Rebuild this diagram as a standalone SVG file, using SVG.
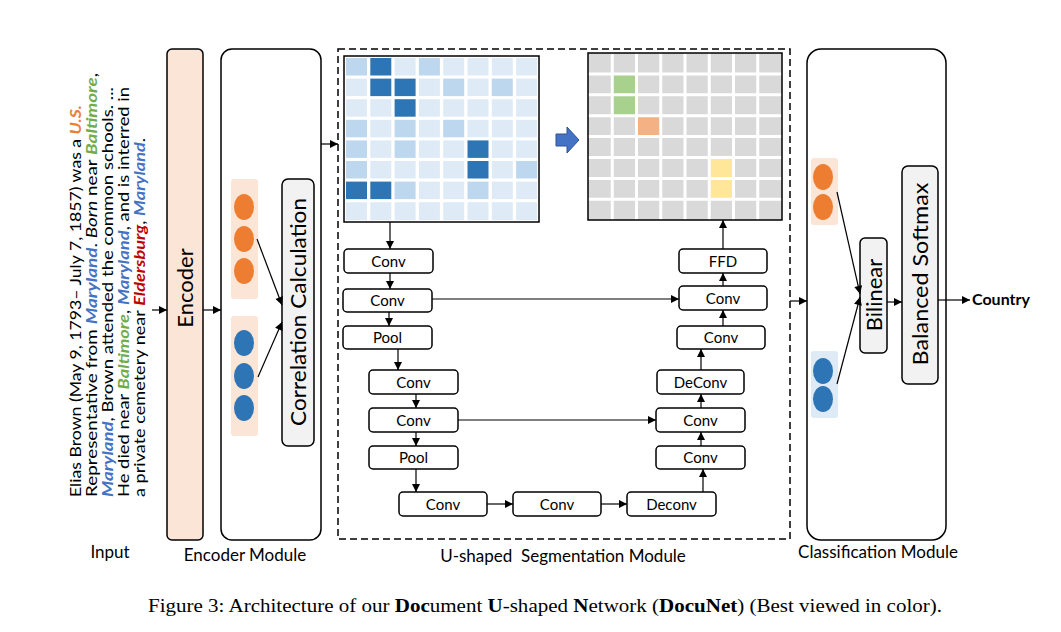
<svg xmlns="http://www.w3.org/2000/svg" width="1061" height="632" viewBox="0 0 1061 632">
<defs>
<marker id="ah" viewBox="0 0 10 10" refX="10" refY="5" markerWidth="9" markerHeight="8" markerUnits="userSpaceOnUse" orient="auto"><path d="M0,0 L10,5 L0,10 z" fill="#000"/></marker>
<style>
.t{font-family:Lato,"Open Sans","Liberation Sans",sans-serif;fill:#000}
.box{fill:#fff;stroke:#000;stroke-width:1.5}
.gbox{fill:#F2F2F2;stroke:#000;stroke-width:1.5}
.lbl{font-size:15px;text-anchor:middle}
.big{font-size:22px;text-anchor:middle}
.mod{font-size:17px;text-anchor:middle}
.c{stroke:#000;stroke-width:1.2;fill:none;marker-end:url(#ah)}
.D{fill:#2E75B6}.M{fill:#BDD7EE}.L{fill:#DEEBF7}
.oc{fill:#ED7D31}.bc{fill:#2E75B6}
.in{font-size:16px}
.us{fill:#ED7D31;font-weight:bold;font-style:italic}
.md{fill:#4472C4;font-weight:bold;font-style:italic}
.bt{fill:#70AD47;font-weight:bold;font-style:italic}
.el{fill:#C00000;font-weight:bold;font-style:italic}
</style>
</defs>
<rect width="1061" height="632" fill="#fff"/>

<g id="input">
<text class="t in" transform="translate(81,497) rotate(-90)" textLength="392" lengthAdjust="spacingAndGlyphs">Elias Brown (May 9, 1793– July 7, 1857) was a <tspan class="us">U.S.</tspan></text>
<text class="t in" transform="translate(97,497) rotate(-90)" textLength="424" lengthAdjust="spacingAndGlyphs">Representative from <tspan class="md">Maryland</tspan>. <tspan font-style="italic">Born</tspan> near <tspan class="bt">Baltimore</tspan>,</text>
<text class="t in" transform="translate(113,497) rotate(-90)" textLength="410" lengthAdjust="spacingAndGlyphs"><tspan class="md">Maryland</tspan>, Brown attended the common schools. ...</text>
<text class="t in" transform="translate(129,497) rotate(-90)" textLength="410" lengthAdjust="spacingAndGlyphs">He died near <tspan class="bt">Baltimore</tspan>, <tspan class="md">Maryland</tspan>, and is interred in</text>
<text class="t in" transform="translate(145,497) rotate(-90)" textLength="359" lengthAdjust="spacingAndGlyphs">a private cemetery near <tspan class="el">Eldersburg</tspan>, <tspan class="md">Maryland</tspan>.</text>
<text class="t mod" x="110" y="558">Input</text>
</g>

<g id="encoder">
<rect x="167" y="49" width="36" height="491" rx="5" fill="#FBE5D6" stroke="#000" stroke-width="1.5"/>
<text class="t big" transform="translate(185,288) rotate(-90)" dy="8">Encoder</text>
</g>

<g id="encoder-module">
<rect class="box" x="221" y="49" width="100" height="491" rx="11"/>
<rect x="231" y="179" width="27" height="120" rx="3" fill="#FBE5D6"/>
<ellipse class="oc" cx="244" cy="207" rx="10" ry="13"/>
<ellipse class="oc" cx="244" cy="239" rx="10" ry="13"/>
<ellipse class="oc" cx="244" cy="271" rx="10" ry="13"/>
<rect x="231" y="316" width="27" height="120" rx="3" fill="#FBE5D6"/>
<ellipse class="bc" cx="244" cy="343" rx="10" ry="13"/>
<ellipse class="bc" cx="244" cy="376" rx="10" ry="13"/>
<ellipse class="bc" cx="244" cy="408" rx="10" ry="13"/>
<text class="t mod" x="245" y="561">Encoder Module</text>
</g>

<g id="correlation">
<rect class="gbox" x="282" y="179" width="32" height="267" rx="6"/>
<text class="t big" transform="translate(298,312) rotate(-90)" dy="8" textLength="228" lengthAdjust="spacingAndGlyphs">Correlation Calculation</text>
</g>

<g id="u-module">
<rect x="338" y="49" width="452" height="490" fill="none" stroke="#000" stroke-width="1.5" stroke-dasharray="7,4"/>
<text class="t mod" x="563" y="562" xml:space="preserve">U-shaped  Segmentation Module</text>
</g>

<g id="matrix1">
<rect x="344" y="56" width="195" height="166" fill="#fff" stroke="#000" stroke-width="1.5"/>
<g transform="translate(346,58)">
<rect class="M" x="0" y="0" width="21" height="17.5"/><rect class="D" x="24.3" y="0" width="21" height="17.5"/><rect class="L" x="48.6" y="0" width="21" height="17.5"/><rect class="M" x="72.9" y="0" width="21" height="17.5"/><rect class="L" x="97.2" y="0" width="21" height="17.5"/><rect class="L" x="121.5" y="0" width="21" height="17.5"/><rect class="L" x="145.8" y="0" width="21" height="17.5"/><rect class="L" x="170.1" y="0" width="21" height="17.5"/>
<rect class="L" x="0" y="20.6" width="21" height="17.5"/><rect class="D" x="24.3" y="20.6" width="21" height="17.5"/><rect class="D" x="48.6" y="20.6" width="21" height="17.5"/><rect class="L" x="72.9" y="20.6" width="21" height="17.5"/><rect class="M" x="97.2" y="20.6" width="21" height="17.5"/><rect class="L" x="121.5" y="20.6" width="21" height="17.5"/><rect class="M" x="145.8" y="20.6" width="21" height="17.5"/><rect class="L" x="170.1" y="20.6" width="21" height="17.5"/>
<rect class="L" x="0" y="41.2" width="21" height="17.5"/><rect class="L" x="24.3" y="41.2" width="21" height="17.5"/><rect class="D" x="48.6" y="41.2" width="21" height="17.5"/><rect class="L" x="72.9" y="41.2" width="21" height="17.5"/><rect class="L" x="97.2" y="41.2" width="21" height="17.5"/><rect class="L" x="121.5" y="41.2" width="21" height="17.5"/><rect class="L" x="145.8" y="41.2" width="21" height="17.5"/><rect class="L" x="170.1" y="41.2" width="21" height="17.5"/>
<rect class="M" x="0" y="61.8" width="21" height="17.5"/><rect class="L" x="24.3" y="61.8" width="21" height="17.5"/><rect class="M" x="48.6" y="61.8" width="21" height="17.5"/><rect class="L" x="72.9" y="61.8" width="21" height="17.5"/><rect class="M" x="97.2" y="61.8" width="21" height="17.5"/><rect class="L" x="121.5" y="61.8" width="21" height="17.5"/><rect class="L" x="145.8" y="61.8" width="21" height="17.5"/><rect class="L" x="170.1" y="61.8" width="21" height="17.5"/>
<rect class="M" x="0" y="82.4" width="21" height="17.5"/><rect class="L" x="24.3" y="82.4" width="21" height="17.5"/><rect class="M" x="48.6" y="82.4" width="21" height="17.5"/><rect class="L" x="72.9" y="82.4" width="21" height="17.5"/><rect class="L" x="97.2" y="82.4" width="21" height="17.5"/><rect class="D" x="121.5" y="82.4" width="21" height="17.5"/><rect class="L" x="145.8" y="82.4" width="21" height="17.5"/><rect class="L" x="170.1" y="82.4" width="21" height="17.5"/>
<rect class="M" x="0" y="103" width="21" height="17.5"/><rect class="L" x="24.3" y="103" width="21" height="17.5"/><rect class="L" x="48.6" y="103" width="21" height="17.5"/><rect class="L" x="72.9" y="103" width="21" height="17.5"/><rect class="L" x="97.2" y="103" width="21" height="17.5"/><rect class="D" x="121.5" y="103" width="21" height="17.5"/><rect class="L" x="145.8" y="103" width="21" height="17.5"/><rect class="M" x="170.1" y="103" width="21" height="17.5"/>
<rect class="D" x="0" y="123.6" width="21" height="17.5"/><rect class="D" x="24.3" y="123.6" width="21" height="17.5"/><rect class="M" x="48.6" y="123.6" width="21" height="17.5"/><rect class="L" x="72.9" y="123.6" width="21" height="17.5"/><rect class="L" x="97.2" y="123.6" width="21" height="17.5"/><rect class="M" x="121.5" y="123.6" width="21" height="17.5"/><rect class="L" x="145.8" y="123.6" width="21" height="17.5"/><rect class="L" x="170.1" y="123.6" width="21" height="17.5"/>
<rect class="L" x="0" y="144.2" width="21" height="18"/><rect class="L" x="24.3" y="144.2" width="21" height="18"/><rect class="L" x="48.6" y="144.2" width="21" height="18"/><rect class="L" x="72.9" y="144.2" width="21" height="18"/><rect class="L" x="97.2" y="144.2" width="21" height="18"/><rect class="L" x="121.5" y="144.2" width="21" height="18"/><rect class="L" x="145.8" y="144.2" width="21" height="18"/><rect class="L" x="170.1" y="144.2" width="21" height="18"/>
</g>
</g>

<g id="transform-arrow">
<path d="M556,134 L567,134 L567,127 L579,140 L567,153 L567,146 L556,146 Z" fill="#4472C4" stroke="#2F528F" stroke-width="1"/>
</g>

<g id="matrix2">
<rect x="588" y="53" width="194" height="167" fill="#D9D9D9"/>
<rect x="612.25" y="73.9" width="24.25" height="41.8" fill="#A9D18E"/>
<rect x="636.5" y="115.7" width="24.25" height="20.9" fill="#F4B183"/>
<rect x="709.25" y="157.5" width="24.25" height="41.8" fill="#FFE699"/>
<g stroke="#fff" stroke-width="3">
<line x1="612.25" y1="53" x2="612.25" y2="220"/><line x1="636.5" y1="53" x2="636.5" y2="220"/><line x1="660.75" y1="53" x2="660.75" y2="220"/><line x1="685" y1="53" x2="685" y2="220"/><line x1="709.25" y1="53" x2="709.25" y2="220"/><line x1="733.5" y1="53" x2="733.5" y2="220"/><line x1="757.75" y1="53" x2="757.75" y2="220"/>
<line x1="588" y1="73.9" x2="782" y2="73.9"/><line x1="588" y1="94.8" x2="782" y2="94.8"/><line x1="588" y1="115.7" x2="782" y2="115.7"/><line x1="588" y1="136.6" x2="782" y2="136.6"/><line x1="588" y1="157.5" x2="782" y2="157.5"/><line x1="588" y1="178.4" x2="782" y2="178.4"/><line x1="588" y1="199.3" x2="782" y2="199.3"/>
</g>
<rect x="588" y="53" width="194" height="167" fill="none" stroke="#000" stroke-width="1.5"/>
</g>

<g id="conv1"><rect class="box" x="344" y="249" width="89" height="24" rx="4"/><text class="t lbl" x="388.5" y="266.5">Conv</text></g>
<g id="conv2"><rect class="box" x="343" y="289" width="89" height="23" rx="4"/><text class="t lbl" x="387.5" y="306">Conv</text></g>
<g id="pool1"><rect class="box" x="343" y="326" width="89" height="23" rx="4"/><text class="t lbl" x="387.5" y="343">Pool</text></g>
<g id="conv3"><rect class="box" x="369" y="370" width="89" height="24" rx="4"/><text class="t lbl" x="413.5" y="387.5">Conv</text></g>
<g id="conv4"><rect class="box" x="369" y="408" width="89" height="24" rx="4"/><text class="t lbl" x="413.5" y="425.5">Conv</text></g>
<g id="pool2"><rect class="box" x="369" y="446" width="89" height="23" rx="4"/><text class="t lbl" x="413.5" y="463">Pool</text></g>
<g id="conv5"><rect class="box" x="399" y="492" width="88" height="24" rx="4"/><text class="t lbl" x="443" y="509.5">Conv</text></g>
<g id="conv6"><rect class="box" x="513" y="492" width="88" height="24" rx="4"/><text class="t lbl" x="557" y="509.5">Conv</text></g>
<g id="deconv1"><rect class="box" x="627" y="492" width="89" height="24" rx="4"/><text class="t lbl" x="671.5" y="509.5">Deconv</text></g>
<g id="conv7"><rect class="box" x="656" y="446" width="89" height="23" rx="4"/><text class="t lbl" x="700.5" y="463">Conv</text></g>
<g id="conv8"><rect class="box" x="656" y="408" width="89" height="24" rx="4"/><text class="t lbl" x="700.5" y="425.5">Conv</text></g>
<g id="deconv2"><rect class="box" x="657" y="370" width="87" height="24" rx="4"/><text class="t lbl" x="700.5" y="387.5">DeConv</text></g>
<g id="conv9"><rect class="box" x="677" y="326" width="88" height="23" rx="4"/><text class="t lbl" x="721" y="343">Conv</text></g>
<g id="conv10"><rect class="box" x="679" y="286" width="88" height="24" rx="4"/><text class="t lbl" x="723" y="303.5">Conv</text></g>
<g id="ffd"><rect class="box" x="679" y="249" width="88" height="24" rx="4"/><text class="t lbl" x="723" y="266.5">FFD</text></g>

<g id="classification-module">
<rect class="box" x="807" y="49" width="139" height="491" rx="14"/>
<rect x="811" y="158" width="27" height="67" rx="3" fill="#FBE5D6"/>
<ellipse class="oc" cx="823" cy="177" rx="10" ry="13"/>
<ellipse class="oc" cx="823" cy="207" rx="10" ry="13"/>
<rect x="811" y="351" width="27" height="67" rx="3" fill="#DEEBF7"/>
<ellipse class="bc" cx="823" cy="371" rx="10" ry="13"/>
<ellipse class="bc" cx="823" cy="399" rx="10" ry="13"/>
<text class="t mod" x="878" y="558">Classification Module</text>
</g>
<g id="bilinear">
<rect class="gbox" x="860" y="238" width="27" height="115" rx="5"/>
<text class="t big" transform="translate(873.5,295) rotate(-90)" dy="8">Bilinear</text>
</g>
<g id="softmax">
<rect class="gbox" x="902" y="166" width="36" height="218" rx="6"/>
<text class="t big" transform="translate(920,274) rotate(-90)" dy="8" textLength="183" lengthAdjust="spacingAndGlyphs">Balanced  Softmax</text>
</g>
<g id="output">
<text class="t" x="972" y="305" font-size="16" font-weight="bold">Country</text>
</g>

<g id="connectors">
<line class="c" x1="152" y1="310" x2="167" y2="310"/>
<line class="c" x1="203" y1="310" x2="221" y2="310"/>
<line class="c" x1="257" y1="239" x2="282" y2="305"/>
<line class="c" x1="258" y1="377" x2="282" y2="322"/>
<line class="c" x1="321" y1="144" x2="338" y2="144"/>
<line class="c" x1="390" y1="222" x2="390" y2="249"/>
<line class="c" x1="390" y1="273" x2="390" y2="289"/>
<line class="c" x1="389" y1="312" x2="389" y2="326"/>
<line class="c" x1="398" y1="349" x2="398" y2="370"/>
<line class="c" x1="416" y1="394" x2="416" y2="408"/>
<line class="c" x1="416" y1="432" x2="416" y2="446"/>
<line class="c" x1="416" y1="469" x2="416" y2="492"/>
<line class="c" x1="487" y1="504" x2="513" y2="504"/>
<line class="c" x1="601" y1="504" x2="627" y2="504"/>
<line class="c" x1="703" y1="492" x2="703" y2="469"/>
<line class="c" x1="701" y1="446" x2="701" y2="432"/>
<line class="c" x1="458" y1="420" x2="656" y2="420"/>
<line class="c" x1="701" y1="408" x2="701" y2="394"/>
<line class="c" x1="701" y1="370" x2="701" y2="349"/>
<line class="c" x1="723" y1="326" x2="723" y2="310"/>
<line class="c" x1="432" y1="299" x2="679" y2="299"/>
<line class="c" x1="723" y1="286" x2="723" y2="273"/>
<line class="c" x1="723" y1="249" x2="723" y2="220"/>
<line class="c" x1="790" y1="301" x2="807" y2="301"/>
<line class="c" x1="837" y1="192" x2="860" y2="294"/>
<line class="c" x1="837" y1="384" x2="860" y2="297"/>
<line class="c" x1="887" y1="302" x2="902" y2="302"/>
<line class="c" x1="938" y1="300" x2="970" y2="300"/>
</g>

<g id="caption">
<text x="545" y="612" font-family="'Liberation Serif','Times New Roman',serif" font-size="18.5" text-anchor="middle" textLength="794" lengthAdjust="spacingAndGlyphs">Figure 3: Architecture of our <tspan font-weight="bold">Doc</tspan>ument <tspan font-weight="bold">U</tspan>-shaped <tspan font-weight="bold">N</tspan>etwork (<tspan font-weight="bold">DocuNet</tspan>) (Best viewed in color).</text>
</g>
</svg>
